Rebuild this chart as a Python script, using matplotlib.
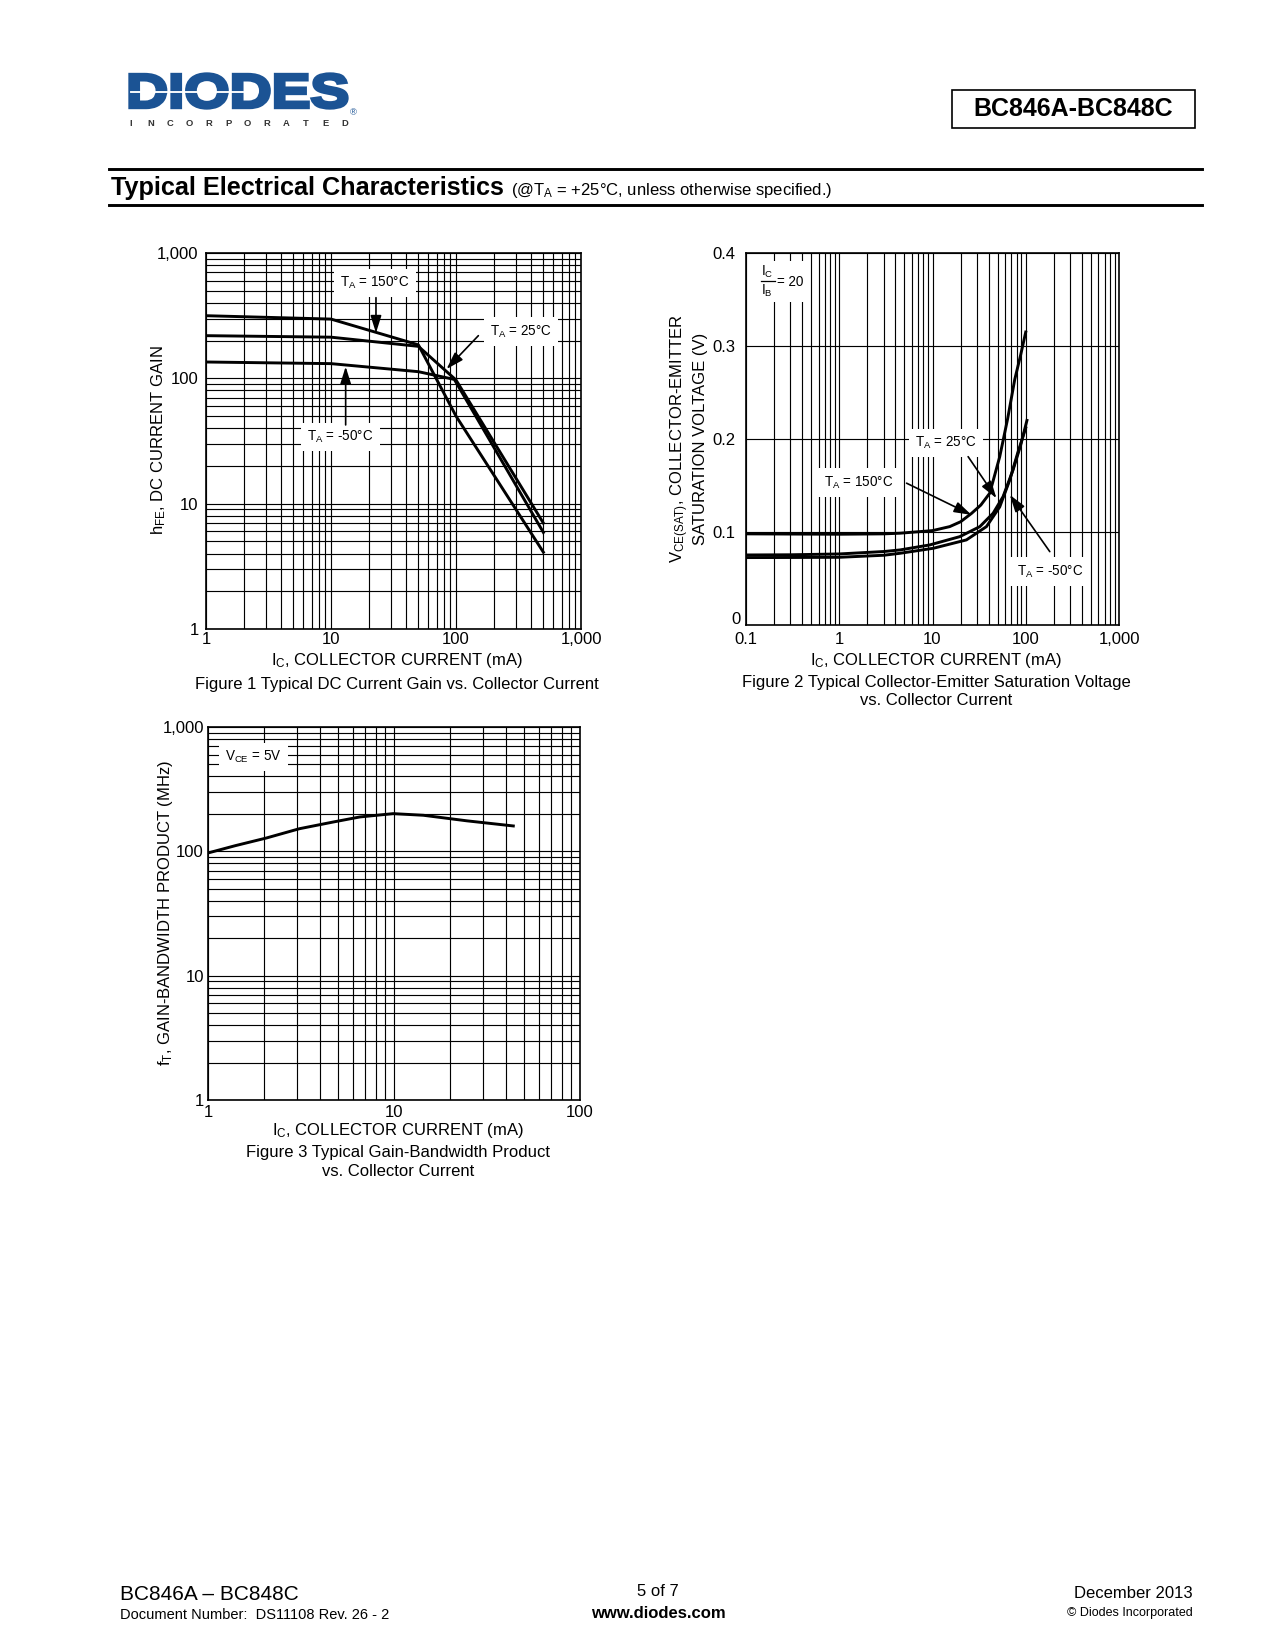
import numpy as np
import matplotlib
matplotlib.use("Agg")
import matplotlib.pyplot as plt
import matplotlib.transforms as mtransforms
from matplotlib.textpath import TextPath
from matplotlib.patches import PathPatch
from matplotlib.font_manager import FontProperties
from matplotlib.ticker import LogLocator, FixedLocator, FixedFormatter, NullFormatter

plt.rcParams['font.family'] = ['Liberation Sans', 'DejaVu Sans']
plt.rcParams['mathtext.default'] = 'regular'

# ---------------- data ----------------
# Figure 1: hFE vs IC
f1_x150 = [1, 10, 50, 100, 500]
f1_y150 = [316, 297, 185, 50, 4.1]
f1_x25 = [1, 10, 50, 100, 500]
f1_y25 = [219, 213, 180, 97, 7.0]
f1_xm50 = [1, 10, 50, 97, 500]
f1_ym50 = [135, 131, 113, 98, 5.9]
f1_xticks = [1, 10, 100, 1000]
f1_xticklabels = ['1', '10', '100', '1,000']
f1_yticks = [1, 10, 100, 1000]
f1_yticklabels = ['1', '10', '100', '1,000']

# Figure 2: VCE(sat) vs IC
f2_x150 = [0.1, 0.3, 1, 3, 4.47, 10, 15.3, 20, 26.2, 33, 41.1, 52.6, 64, 76.2, 88, 100]
f2_y150 = [0.098, 0.0978, 0.0976, 0.098, 0.0987, 0.1015, 0.1058, 0.111, 0.120, 0.129,
           0.1417, 0.181, 0.222, 0.264, 0.290, 0.315]
f2_x25 = [0.1, 0.3, 1, 3, 4.47, 9.35, 19.6, 32.2, 44.7, 57.1, 73.1, 88, 103]
f2_y25 = [0.0753, 0.0755, 0.0764, 0.0790, 0.0807, 0.0861, 0.095, 0.1058, 0.1202, 0.138,
          0.1668, 0.193, 0.220]
f2_xm50 = [0.1, 0.3, 1, 3, 4.47, 10.2, 23.1, 37.9, 52.6, 67.4, 82, 100]
f2_ym50 = [0.0725, 0.0726, 0.0728, 0.0750, 0.0771, 0.0825, 0.0915, 0.1058, 0.127, 0.156,
           0.185, 0.212]
f2_xticks = [0.1, 1, 10, 100, 1000]
f2_xticklabels = ['0.1', '1', '10', '100', '1,000']
f2_yticks = [0, 0.1, 0.2, 0.3, 0.4]
f2_yticklabels = ['0', '0.1', '0.2', '0.3', '0.4']

# Figure 3: fT vs IC
f3_x = [1, 1.4, 2.06, 3.1, 4.7, 6.55, 9.9, 14.4, 24.6, 43.8]
f3_y = [97, 111, 128, 152, 172, 189, 201, 195, 176, 160]
f3_xticks = [1, 10, 100]
f3_xticklabels = ['1', '10', '100']
f3_yticks = [1, 10, 100, 1000]
f3_yticklabels = ['1', '10', '100', '1,000']

W, H = 1275, 1650
fig = plt.figure(figsize=(W / 150, H / 150), dpi=150)


def P(x, y):
    return x / W, 1 - y / H


def ftext(x, y, s, **kw):
    kw.setdefault('ha', 'center')
    kw.setdefault('va', 'center')
    fig.text(*P(x, y), s, **kw)


def fline(x0, x1, y0, y1, **kw):
    fig.add_artist(plt.Line2D([x0 / W, x1 / W], [1 - y0 / H, 1 - y1 / H],
                              transform=fig.transFigure, **kw))


def add_axes(l, t, r, b):
    return fig.add_axes([l / W, 1 - b / H, (r - l) / W, (b - t) / H])


LW = 1.4
GRID = dict(color='black', lw=0.55)
BLUE = '#1b5394'

# ---------------- header ----------------
tp = TextPath((0, 0), 'DIODES', size=1,
              prop=FontProperties(family='Liberation Sans', weight='bold'))
bb = tp.get_extents()
lx0, lx1, ly0, ly1 = 130, 347, 74, 108
tr = (mtransforms.Affine2D().translate(-bb.x0, -bb.y0)
      .scale((lx1 - lx0) / bb.width / W, (ly1 - ly0) / bb.height / H)
      .translate(lx0 / W, 1 - ly1 / H) + fig.transFigure)
fig.add_artist(PathPatch(tp, transform=tr, fc=BLUE, ec=BLUE, lw=1.6))
fline(131, 243, 92, 92, color='white', lw=0.9)
letters = 'INCORPORATED'
for i, ch in enumerate(letters):
    ftext(131 + i * (214 / 11), 123, ch, fontsize=4.5, fontweight='bold', color='#333333')
ftext(353, 113, '®', fontsize=4.5, color=BLUE)

fig.patches.append(plt.Rectangle(P(952, 128), (1195 - 952) / W, (128 - 90) / H,
                                 transform=fig.transFigure, fill=False, ec='black', lw=0.8))
ftext(1073, 109, 'BC846A-BC848C', fontsize=12, fontweight='bold')

fline(109, 1202, 169, 169, color='black', lw=1.4)
fline(109, 1202, 205, 205, color='black', lw=1.4)
ftext(111, 188, 'Typical Electrical Characteristics', ha='left', fontsize=12.1, fontweight='bold')
ftext(511, 190, '(@T$_A$ = +25°C, unless otherwise specified.)', ha='left', fontsize=8)

# ---------------- footer ----------------
ftext(120, 1594, 'BC846A – BC848C', ha='left', fontsize=10)
ftext(120, 1615, 'Document Number:  DS11108 Rev. 26 - 2', ha='left', fontsize=7)
ftext(658, 1592, '5 of 7', fontsize=8)
ftext(658, 1614, 'www.diodes.com', fontsize=8, fontweight='bold')
ftext(1193, 1594, 'December 2013', ha='right', fontsize=8)
ftext(1193, 1613, '© Diodes Incorporated', ha='right', fontsize=6.0)


def style_ax(ax):
    for s in ax.spines.values():
        s.set_linewidth(0.8)
    ax.tick_params(which='both', length=0, labelsize=8)


def label_box(ax, x, y, s):
    ax.text(x, y, s, ha='center', va='center', fontsize=6.5, zorder=6,
            bbox=dict(fc='white', ec='none', boxstyle='square,pad=0.45'))


def arrow(ax, start, tip):
    ax.annotate('', xy=tip, xytext=start, zorder=7,
                arrowprops=dict(arrowstyle='-|>,head_length=0.7,head_width=0.22',
                                color='black', lw=0.8, shrinkA=0, shrinkB=0))


# ---------------- Figure 1 ----------------
ax1 = add_axes(206, 253, 581, 629)
ax1.set_xscale('log')
ax1.set_yscale('log')
ax1.set_xlim(1, 1000)
ax1.set_ylim(1, 1000)
ax1.xaxis.set_major_locator(FixedLocator(f1_xticks))
ax1.xaxis.set_major_formatter(FixedFormatter(f1_xticklabels))
ax1.yaxis.set_major_locator(FixedLocator(f1_yticks))
ax1.yaxis.set_major_formatter(FixedFormatter(f1_yticklabels))
for a in (ax1.xaxis, ax1.yaxis):
    a.set_minor_locator(LogLocator(base=10, subs=range(2, 10)))
    a.set_minor_formatter(NullFormatter())
ax1.grid(which='both', **GRID)
style_ax(ax1)
ax1.tick_params(axis='x', pad=1.5)
ax1.tick_params(axis='y', pad=3.5)
ax1.plot(f1_x150, f1_y150, color='black', lw=LW, zorder=4)
ax1.plot(f1_x25, f1_y25, color='black', lw=LW, zorder=4)
ax1.plot(f1_xm50, f1_ym50, color='black', lw=LW, zorder=4)
label_box(ax1, 22.5, 575, 'T$_A$ = 150°C')
label_box(ax1, 329, 237, 'T$_A$ = 25°C')
label_box(ax1, 11.9, 34, 'T$_A$ = -50°C')
arrow(ax1, (22.9, 440), (22.9, 230))
arrow(ax1, (151, 219), (84, 118.6))
arrow(ax1, (13.1, 42.5), (13.1, 124))
ftext(159, 440, 'h$_{FE}$, DC CURRENT GAIN', rotation=90, fontsize=8)
ftext(397, 661, 'I$_C$, COLLECTOR CURRENT (mA)', fontsize=8)
ftext(397, 684, 'Figure 1 Typical DC Current Gain vs. Collector Current', fontsize=8)

# ---------------- Figure 2 ----------------
ax2 = add_axes(746, 253, 1119, 625)
ax2.set_xscale('log')
ax2.set_xlim(0.1, 1000)
ax2.set_ylim(0, 0.4)
ax2.xaxis.set_major_locator(FixedLocator(f2_xticks))
ax2.xaxis.set_major_formatter(FixedFormatter(f2_xticklabels))
ax2.xaxis.set_minor_locator(LogLocator(base=10, subs=range(2, 10)))
ax2.xaxis.set_minor_formatter(NullFormatter())
ax2.yaxis.set_major_locator(FixedLocator(f2_yticks[1:]))
ax2.yaxis.set_major_formatter(FixedFormatter(f2_yticklabels[1:]))
ax2.grid(axis='x', which='both', **GRID)
ax2.grid(axis='y', which='major', **GRID)
style_ax(ax2)
ax2.tick_params(axis='x', pad=3.5)
ax2.tick_params(axis='y', pad=5)
# the "0" label sits slightly above the bottom edge in the original
ax2.annotate(f2_yticklabels[0], xy=(0, f2_yticks[0]), xycoords=('axes fraction', 'data'),
             xytext=(-5 * 72 / 150, 5 * 72 / 150), textcoords='offset points',
             ha='right', va='center', fontsize=8)
ax2.plot(f2_x150, f2_y150, color='black', lw=LW, zorder=4)
ax2.plot(f2_x25, f2_y25, color='black', lw=LW, zorder=4)
ax2.plot(f2_xm50, f2_ym50, color='black', lw=LW, zorder=4)
# Ic/Ib = 20 fraction (white patch over the grid)
fig.patches.append(plt.Rectangle(P(758, 302), (804 - 758) / W, (302 - 261) / H,
                                 transform=fig.transFigure, fc='white', ec='none'))
ftext(767, 272, 'I$_C$', fontsize=6.5)
fline(761, 775, 281, 281, color='black', lw=0.6)
ftext(767, 291, 'I$_B$', fontsize=6.5)
ftext(777, 282, '= 20', ha='left', fontsize=6.5)
label_box(ax2, 13.9, 0.1955, 'T$_A$ = 25°C')
label_box(ax2, 1.6, 0.153, 'T$_A$ = 150°C')
label_box(ax2, 181, 0.0574, 'T$_A$ = -50°C')
arrow(ax2, (24.1, 0.181), (48.5, 0.1363))
arrow(ax2, (5.27, 0.1525), (26.2, 0.1184))
arrow(ax2, (181, 0.0789), (67.4, 0.140))
ftext(680, 439, 'V$_{CE(SAT)}$, COLLECTOR-EMITTER', rotation=90, fontsize=8)
ftext(701, 439, 'SATURATION VOLTAGE (V)', rotation=90, fontsize=8)
ftext(936, 660, 'I$_C$, COLLECTOR CURRENT (mA)', fontsize=8)
ftext(936, 682, 'Figure 2 Typical Collector-Emitter Saturation Voltage', fontsize=8)
ftext(936, 701, 'vs. Collector Current', fontsize=8)

# ---------------- Figure 3 ----------------
ax3 = add_axes(208, 727, 580, 1100)
ax3.set_xscale('log')
ax3.set_yscale('log')
ax3.set_xlim(1, 100)
ax3.set_ylim(1, 1000)
ax3.xaxis.set_major_locator(FixedLocator(f3_xticks))
ax3.xaxis.set_major_formatter(FixedFormatter(f3_xticklabels))
ax3.yaxis.set_major_locator(FixedLocator(f3_yticks))
ax3.yaxis.set_major_formatter(FixedFormatter(f3_yticklabels))
for a in (ax3.xaxis, ax3.yaxis):
    a.set_minor_locator(LogLocator(base=10, subs=range(2, 10)))
    a.set_minor_formatter(NullFormatter())
ax3.grid(which='both', **GRID)
style_ax(ax3)
ax3.tick_params(axis='x', pad=2.5)
ax3.tick_params(axis='y', pad=2)
ax3.plot(f3_x, f3_y, color='black', lw=LW, zorder=4)
label_box(ax3, 1.75, 574, 'V$_{CE}$ = 5V')
ftext(165, 913, 'f$_T$, GAIN-BANDWIDTH PRODUCT (MHz)', rotation=90, fontsize=8)
ftext(398, 1130, 'I$_C$, COLLECTOR CURRENT (mA)', fontsize=8)
ftext(398, 1152, 'Figure 3 Typical Gain-Bandwidth Product', fontsize=8)
ftext(398, 1171, 'vs. Collector Current', fontsize=8)

fig.savefig('out.png', dpi=150, facecolor='white')
